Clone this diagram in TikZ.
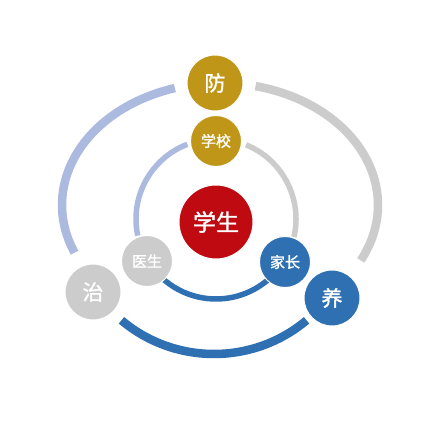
\documentclass[tikz,border=0pt]{standalone}
\usepackage{fontspec}
\setmainfont{Noto Sans CJK SC}[FakeBold=1.5]
\definecolor{gold}{RGB}{192,150,24}
\definecolor{crimson}{RGB}{192,10,18}
\definecolor{steel}{RGB}{46,112,178}
\definecolor{silver}{RGB}{204,204,204}
\definecolor{haze}{RGB}{172,186,224}
\tikzstyle{ring} = [line width=5.5pt]
\tikzstyle{outer ring} = [line width=8.5pt]
\tikzstyle{dot} = [circle, draw=white, line width=1pt, text=white, inner sep=0pt]
\tikzstyle{small dot} = [dot, minimum size=51pt, font=\fontsize{15}{15}\selectfont]
\tikzstyle{big dot} = [dot, minimum size=56pt, font=\fontsize{21}{21}\selectfont]

\begin{document}
\begin{tikzpicture}[x=1pt, y=1pt]
    \useasboundingbox (0,0) rectangle (425,425);
    % centres of the rings
    \coordinate (inner) at (216,206);
    \coordinate (outer) at (220,220);
    \coordinate (lower) at (214,215);

    % We start by drawing the rings
    \draw [ring, haze] (inner) ++(111:80) arc [start angle=111, end angle=192, radius=80];
    \draw [ring, silver] (inner) ++(68:80) arc [start angle=68, end angle=-13, radius=80];
    \draw [ring, steel] (inner) ++(212:80) arc [start angle=212, end angle=327, radius=80];
    \draw [outer ring, haze] (outer) ++(106.6:158 and 122) arc [start angle=106.6, end angle=203, x radius=158, y radius=122];
    \draw [outer ring, silver] (outer) ++(77:158 and 122) arc [start angle=77, end angle=-27, x radius=158, y radius=122];
    \draw [outer ring, steel] (lower) ++(230:144) arc [start angle=230, end angle=310, radius=144];

    % Then the circles on top of them
    \node [big dot, fill=crimson, minimum size=74pt, font=\fontsize{23}{23}\selectfont] (student) at (216,203) {学生};
    \node [small dot, fill=gold] (school) at (216,284) {学校};
    \node [small dot, fill=silver] (doctor) at (147,164) {医生};
    \node [small dot, fill=steel] (parents) at (285,163) {家长};
    \node [big dot, fill=gold] (prevent) at (215,342) {防};
    \node [big dot, fill=silver] (treat) at (93,133) {治};
    \node [big dot, fill=steel] (nurture) at (332,127) {养};
\end{tikzpicture}
\end{document}
